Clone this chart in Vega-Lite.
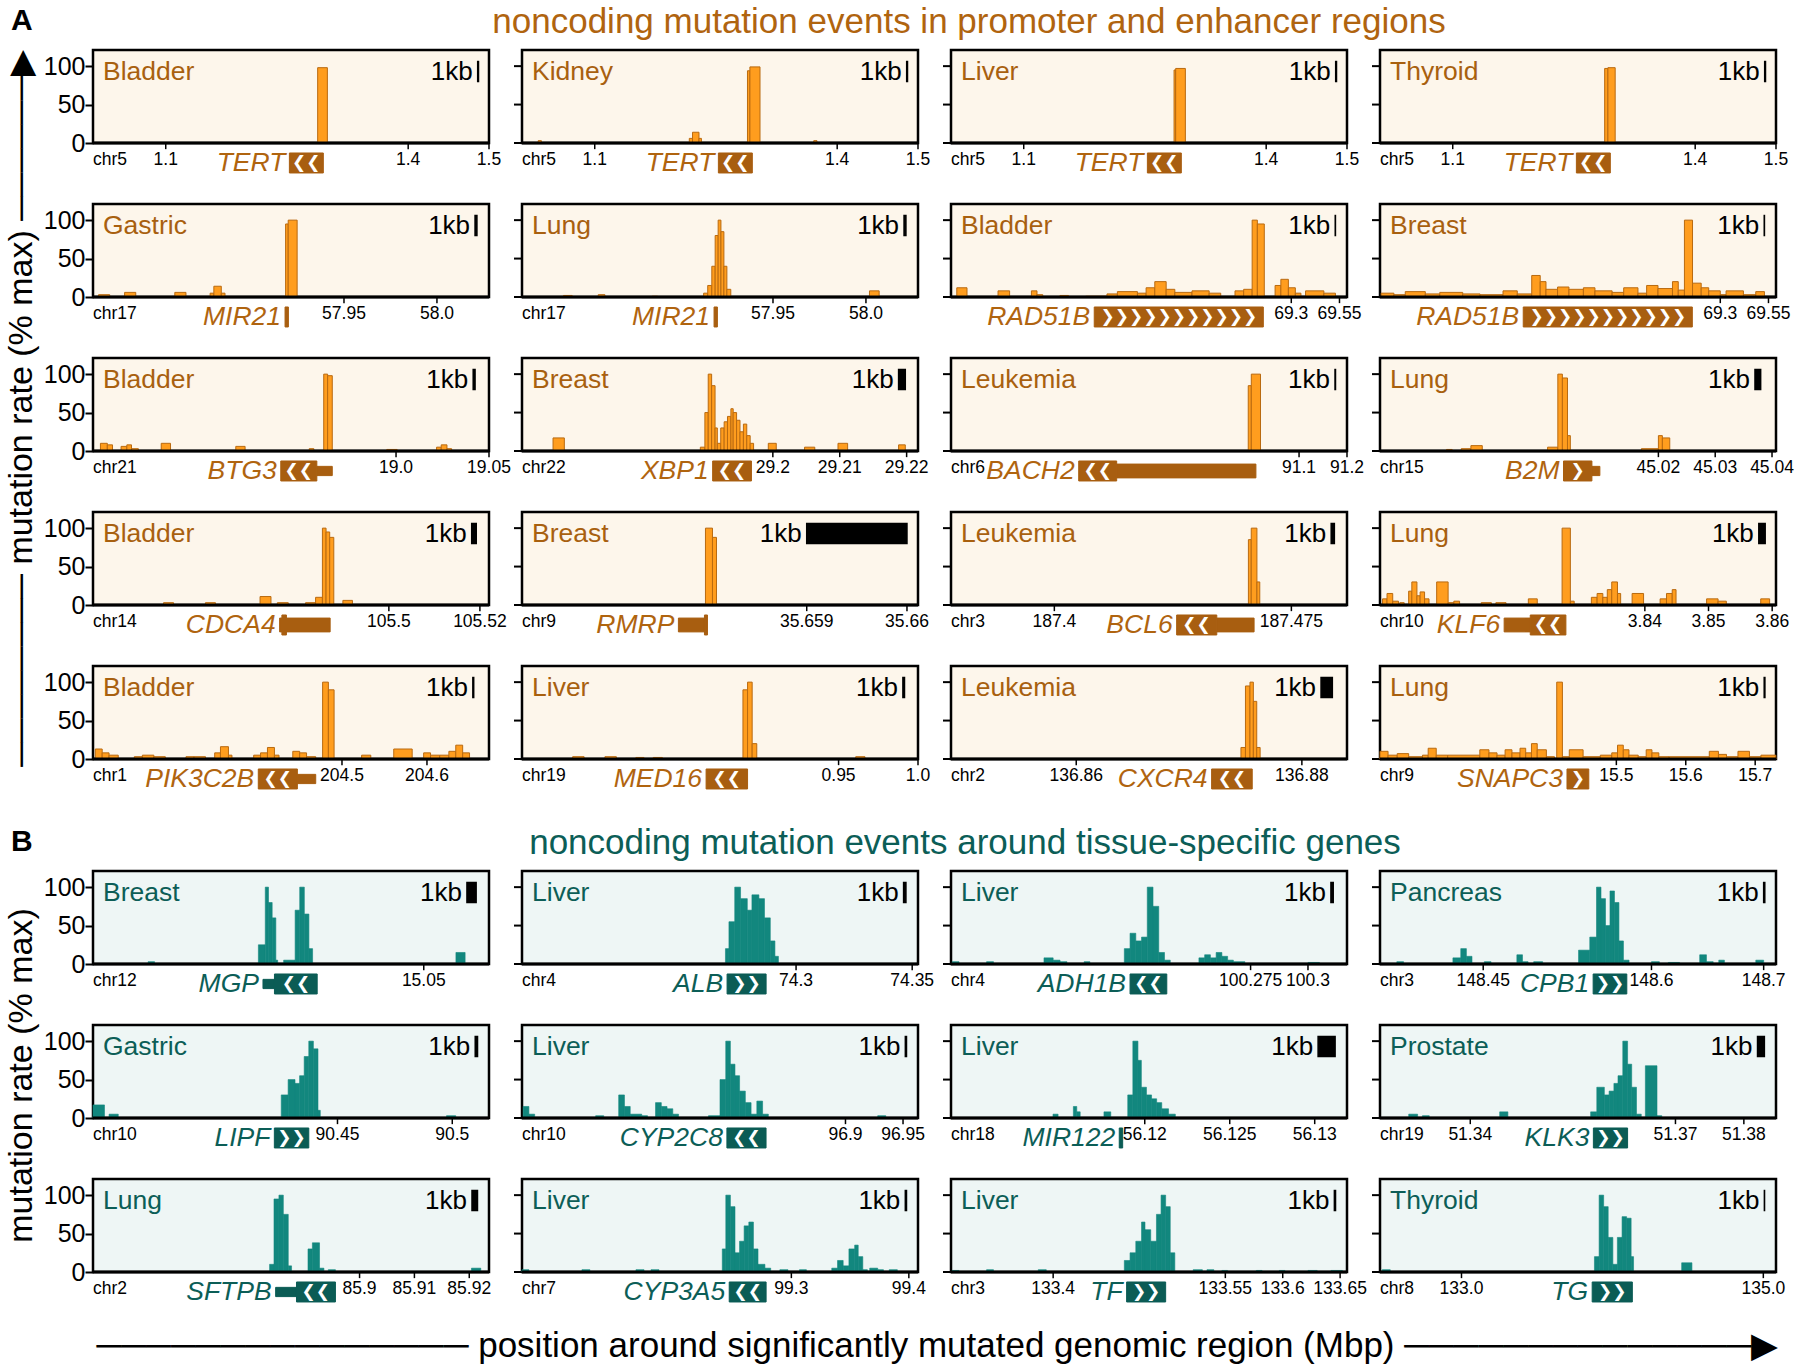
{
"$schema":"https://vega.github.io/schema/vega-lite/v6.json",
"background":"white",
"padding":{"left":4,"top":5,"right":5,"bottom":0},
"config":{"view":{"stroke":null},"text":{"font":"Liberation Sans"},"title":{"font":"Liberation Sans"},"header":{"titleFont":"Liberation Sans"}},
"datasets":{
"panels":[
{"p":"A01","r":1,"c":1,"x0":1.01,"x1":1.5,"tis":"Bladder","chr":"chr5","k0":1.486,"k1":1.487},
{"p":"A02","r":1,"c":2,"x0":1.01,"x1":1.5,"tis":"Kidney","chr":"chr5","k0":1.486,"k1":1.487},
{"p":"A03","r":1,"c":3,"x0":1.01,"x1":1.5,"tis":"Liver","chr":"chr5","k0":1.486,"k1":1.487},
{"p":"A04","r":1,"c":4,"x0":1.01,"x1":1.5,"tis":"Thyroid","chr":"chr5","k0":1.486,"k1":1.487},
{"p":"A05","r":2,"c":1,"x0":57.815,"x1":58.028,"tis":"Gastric","chr":"chr17","k0":58.0205,"k1":58.0215},
{"p":"A06","r":2,"c":2,"x0":57.815,"x1":58.028,"tis":"Lung","chr":"chr17","k0":58.0205,"k1":58.0215},
{"p":"A07","r":2,"c":3,"x0":67.535,"x1":69.589,"tis":"Bladder","chr":"","k0":69.528,"k1":69.529},
{"p":"A08","r":2,"c":4,"x0":67.535,"x1":69.589,"tis":"Breast","chr":"","k0":69.528,"k1":69.529},
{"p":"A09","r":3,"c":1,"x0":18.837,"x1":19.05,"tis":"Bladder","chr":"chr21","k0":19.0415,"k1":19.0425},
{"p":"A10","r":3,"c":2,"x0":29.1625,"x1":29.2217,"tis":"Breast","chr":"chr22","k0":29.2188,"k1":29.2198},
{"p":"A11","r":3,"c":3,"x0":90.374,"x1":91.2,"tis":"Leukemia","chr":"chr6","k0":91.175,"k1":91.176},
{"p":"A12","r":3,"c":4,"x0":44.971,"x1":45.0407,"tis":"Lung","chr":"chr15","k0":45.037,"k1":45.038},
{"p":"A13","r":4,"c":1,"x0":105.435,"x1":105.522,"tis":"Bladder","chr":"chr14","k0":105.5182,"k1":105.5192},
{"p":"A14","r":4,"c":2,"x0":35.65616,"x1":35.66011,"tis":"Breast","chr":"chr9","k0":35.659,"k1":35.66},
{"p":"A15","r":4,"c":3,"x0":187.3673,"x1":187.4926,"tis":"Leukemia","chr":"chr3","k0":187.4876,"k1":187.4886},
{"p":"A16","r":4,"c":4,"x0":3.7984,"x1":3.8606,"tis":"Lung","chr":"chr10","k0":3.8579,"k1":3.8589},
{"p":"A17","r":5,"c":1,"x0":204.207,"x1":204.673,"tis":"Bladder","chr":"chr1","k0":204.654,"k1":204.655},
{"p":"A18","r":5,"c":2,"x0":0.7507,"x1":1.0,"tis":"Liver","chr":"chr19","k0":0.9905,"k1":0.9915},
{"p":"A19","r":5,"c":3,"x0":136.8489,"x1":136.884,"tis":"Leukemia","chr":"chr2","k0":136.8817,"k1":136.8827},
{"p":"A20","r":5,"c":4,"x0":15.1595,"x1":15.73,"tis":"Lung","chr":"chr9","k0":15.713,"k1":15.714},
{"p":"B01","r":1,"c":1,"x0":15.014,"x1":15.0571,"tis":"Breast","chr":"chr12","k0":15.0547,"k1":15.0557},
{"p":"B02","r":1,"c":2,"x0":74.182,"x1":74.3525,"tis":"Liver","chr":"chr4","k0":74.3463,"k1":74.3473},
{"p":"B03","r":1,"c":3,"x0":100.1445,"x1":100.317,"tis":"Liver","chr":"chr4","k0":100.31,"k1":100.311},
{"p":"B04","r":1,"c":4,"x0":148.358,"x1":148.711,"tis":"Pancreas","chr":"chr3","k0":148.7,"k1":148.701},
{"p":"B05","r":2,"c":1,"x0":90.3435,"x1":90.516,"tis":"Gastric","chr":"chr10","k0":90.51,"k1":90.511},
{"p":"B06","r":2,"c":2,"x0":96.619,"x1":96.963,"tis":"Liver","chr":"chr10","k0":96.952,"k1":96.953},
{"p":"B07","r":2,"c":3,"x0":56.1086,"x1":56.1319,"tis":"Liver","chr":"chr18","k0":56.1302,"k1":56.1312},
{"p":"B08","r":2,"c":4,"x0":51.3268,"x1":51.3847,"tis":"Prostate","chr":"chr19","k0":51.382,"k1":51.383},
{"p":"B09","r":3,"c":1,"x0":85.8514,"x1":85.9236,"tis":"Lung","chr":"chr2","k0":85.9205,"k1":85.9215},
{"p":"B10","r":3,"c":2,"x0":99.0707,"x1":99.4078,"tis":"Liver","chr":"chr7","k0":99.397,"k1":99.398},
{"p":"B11","r":3,"c":3,"x0":133.311,"x1":133.656,"tis":"Liver","chr":"chr3","k0":133.645,"k1":133.646},
{"p":"B12","r":3,"c":4,"x0":132.46,"x1":135.084,"tis":"Thyroid","chr":"chr8","k0":135.007,"k1":135.008}
],
"ra":[
{"p":"A01","t":"P"},{"p":"A02","t":"P"},{"p":"A03","t":"P"},{"p":"A04","t":"P"},{"p":"A05","t":"P"},{"p":"A06","t":"P"},{"p":"A07","t":"P"},{"p":"A08","t":"P"},{"p":"A09","t":"P"},{"p":"A10","t":"P"},
{"p":"A11","t":"P"},{"p":"A12","t":"P"},{"p":"A13","t":"P"},{"p":"A14","t":"P"},{"p":"A15","t":"P"},{"p":"A16","t":"P"},{"p":"A17","t":"P"},{"p":"A18","t":"P"},{"p":"A19","t":"P"},{"p":"A20","t":"P"},
{"p":"A01","t":"T","x":1.1,"lab":"1.1"},{"p":"A01","t":"T","x":1.4,"lab":"1.4"},{"p":"A01","t":"T","x":1.5,"lab":"1.5"},
{"p":"A02","t":"T","x":1.1,"lab":"1.1"},{"p":"A02","t":"T","x":1.4,"lab":"1.4"},{"p":"A02","t":"T","x":1.5,"lab":"1.5"},
{"p":"A03","t":"T","x":1.1,"lab":"1.1"},{"p":"A03","t":"T","x":1.4,"lab":"1.4"},{"p":"A03","t":"T","x":1.5,"lab":"1.5"},
{"p":"A04","t":"T","x":1.1,"lab":"1.1"},{"p":"A04","t":"T","x":1.4,"lab":"1.4"},{"p":"A04","t":"T","x":1.5,"lab":"1.5"},
{"p":"A05","t":"T","x":57.95,"lab":"57.95"},{"p":"A05","t":"T","x":58.0,"lab":"58.0"},
{"p":"A06","t":"T","x":57.95,"lab":"57.95"},{"p":"A06","t":"T","x":58.0,"lab":"58.0"},
{"p":"A07","t":"T","x":69.3,"lab":"69.3"},{"p":"A07","t":"T","x":69.55,"lab":"69.55"},
{"p":"A08","t":"T","x":69.3,"lab":"69.3"},{"p":"A08","t":"T","x":69.55,"lab":"69.55"},
{"p":"A09","t":"T","x":19.0,"lab":"19.0"},{"p":"A09","t":"T","x":19.05,"lab":"19.05"},
{"p":"A10","t":"T","x":29.2,"lab":"29.2"},{"p":"A10","t":"T","x":29.21,"lab":"29.21"},{"p":"A10","t":"T","x":29.22,"lab":"29.22"},
{"p":"A11","t":"T","x":91.1,"lab":"91.1"},{"p":"A11","t":"T","x":91.2,"lab":"91.2"},
{"p":"A12","t":"T","x":45.02,"lab":"45.02"},{"p":"A12","t":"T","x":45.03,"lab":"45.03"},{"p":"A12","t":"T","x":45.04,"lab":"45.04"},
{"p":"A13","t":"T","x":105.5,"lab":"105.5"},{"p":"A13","t":"T","x":105.52,"lab":"105.52"},
{"p":"A14","t":"T","x":35.659,"lab":"35.659"},{"p":"A14","t":"T","x":35.66,"lab":"35.66"},
{"p":"A15","t":"T","x":187.4,"lab":"187.4"},{"p":"A15","t":"T","x":187.475,"lab":"187.475"},
{"p":"A16","t":"T","x":3.84,"lab":"3.84"},{"p":"A16","t":"T","x":3.85,"lab":"3.85"},{"p":"A16","t":"T","x":3.86,"lab":"3.86"},
{"p":"A17","t":"T","x":204.5,"lab":"204.5"},{"p":"A17","t":"T","x":204.6,"lab":"204.6"},
{"p":"A18","t":"T","x":0.95,"lab":"0.95"},{"p":"A18","t":"T","x":1.0,"lab":"1.0"},
{"p":"A19","t":"T","x":136.86,"lab":"136.86"},{"p":"A19","t":"T","x":136.88,"lab":"136.88"},
{"p":"A20","t":"T","x":15.5,"lab":"15.5"},{"p":"A20","t":"T","x":15.6,"lab":"15.6"},{"p":"A20","t":"T","x":15.7,"lab":"15.7"},
{"p":"A01","t":"G","s":1.253,"e":1.295,"k":"E"},{"p":"A02","t":"G","s":1.253,"e":1.295,"k":"E"},{"p":"A03","t":"G","s":1.253,"e":1.295,"k":"E"},{"p":"A04","t":"G","s":1.253,"e":1.295,"k":"E"},
{"p":"A05","t":"G","s":57.9183,"e":57.9201,"k":"E"},{"p":"A06","t":"G","s":57.9183,"e":57.9201,"k":"E"},
{"p":"A07","t":"G","s":68.278,"e":69.155,"k":"E"},{"p":"A08","t":"G","s":68.278,"e":69.155,"k":"E"},
{"p":"A09","t":"G","s":18.938,"e":18.9574,"k":"E"},{"p":"A09","t":"G","s":18.9574,"e":18.9657,"k":"U"},
{"p":"A10","t":"G","s":29.191,"e":29.1968,"k":"E"},
{"p":"A11","t":"G","s":90.6404,"e":90.7196,"k":"E"},{"p":"A11","t":"G","s":90.7196,"e":91.01,"k":"M"},
{"p":"A12","t":"G","s":45.0033,"e":45.0083,"k":"E"},{"p":"A12","t":"G","s":45.0083,"e":45.0097,"k":"U"},
{"p":"A13","t":"G","s":105.476,"e":105.4871,"k":"M"},{"p":"A13","t":"G","s":105.4765,"e":105.4775,"k":"E"},
{"p":"A14","t":"G","s":35.65772,"e":35.65798,"k":"M"},{"p":"A14","t":"G","s":35.65798,"e":35.65801,"k":"E"},
{"p":"A15","t":"G","s":187.4387,"e":187.4514,"k":"E"},{"p":"A15","t":"G","s":187.4514,"e":187.4632,"k":"M"},
{"p":"A16","t":"G","s":3.8179,"e":3.822,"k":"M"},{"p":"A16","t":"G","s":3.822,"e":3.8276,"k":"E"},
{"p":"A17","t":"G","s":204.4015,"e":204.4475,"k":"E"},{"p":"A17","t":"G","s":204.4475,"e":204.4691,"k":"U"},
{"p":"A18","t":"G","s":0.8666,"e":0.8927,"k":"E"},
{"p":"A19","t":"G","s":136.872,"e":136.8756,"k":"E"},
{"p":"A20","t":"G","s":15.4289,"e":15.4603,"k":"E"},
{"p":"A01","t":"N","g":"TERT","gs":1.253,"am":1.274,"ar":"❮❮"},
{"p":"A02","t":"N","g":"TERT","gs":1.253,"am":1.274,"ar":"❮❮"},
{"p":"A03","t":"N","g":"TERT","gs":1.253,"am":1.274,"ar":"❮❮"},
{"p":"A04","t":"N","g":"TERT","gs":1.253,"am":1.274,"ar":"❮❮"},
{"p":"A05","t":"N","g":"MIR21","gs":57.9183,"am":57.9192,"ar":""},
{"p":"A06","t":"N","g":"MIR21","gs":57.9183,"am":57.9192,"ar":""},
{"p":"A07","t":"N","g":"RAD51B","gs":68.278,"am":68.7165,"ar":"❯❯❯❯❯❯❯❯❯❯❯"},
{"p":"A08","t":"N","g":"RAD51B","gs":68.278,"am":68.7165,"ar":"❯❯❯❯❯❯❯❯❯❯❯"},
{"p":"A09","t":"N","g":"BTG3","gs":18.938,"am":18.9477,"ar":"❮❮"},
{"p":"A10","t":"N","g":"XBP1","gs":29.191,"am":29.1939,"ar":"❮❮"},
{"p":"A11","t":"N","g":"BACH2","gs":90.6404,"am":90.68,"ar":"❮❮"},
{"p":"A12","t":"N","g":"B2M","gs":45.0033,"am":45.0058,"ar":"❯"},
{"p":"A13","t":"N","g":"CDCA4","gs":105.476,"am":105.48,"ar":""},
{"p":"A14","t":"N","g":"RMRP","gs":35.65772,"am":35.6578,"ar":""},
{"p":"A15","t":"N","g":"BCL6","gs":187.4387,"am":187.445,"ar":"❮❮"},
{"p":"A16","t":"N","g":"KLF6","gs":3.8179,"am":3.8248,"ar":"❮❮"},
{"p":"A17","t":"N","g":"PIK3C2B","gs":204.4015,"am":204.4245,"ar":"❮❮"},
{"p":"A18","t":"N","g":"MED16","gs":0.8666,"am":0.8796,"ar":"❮❮"},
{"p":"A19","t":"N","g":"CXCR4","gs":136.872,"am":136.8738,"ar":"❮❮"},
{"p":"A20","t":"N","g":"SNAPC3","gs":15.4289,"am":15.4446,"ar":"❯"},
{"p":"A01","t":"B","s":1.288,"e":1.3,"v":98},
{"p":"A02","t":"B","s":1.03,"e":1.034,"v":3},{"p":"A02","t":"B","s":1.217,"e":1.221,"v":6},{"p":"A02","t":"B","s":1.221,"e":1.229,"v":14},{"p":"A02","t":"B","s":1.229,"e":1.232,"v":6},{"p":"A02","t":"B","s":1.289,"e":1.292,"v":94},{"p":"A02","t":"B","s":1.292,"e":1.3045,"v":99},{"p":"A02","t":"B","s":1.371,"e":1.375,"v":3},
{"p":"A03","t":"B","s":1.286,"e":1.288,"v":95},{"p":"A03","t":"B","s":1.288,"e":1.3,"v":97},
{"p":"A04","t":"B","s":1.288,"e":1.292,"v":97},{"p":"A04","t":"B","s":1.292,"e":1.301,"v":98},
{"p":"A05","t":"B","s":57.818,"e":57.824,"v":3},{"p":"A05","t":"B","s":57.832,"e":57.838,"v":6},{"p":"A05","t":"B","s":57.859,"e":57.865,"v":6},{"p":"A05","t":"B","s":57.878,"e":57.88,"v":5},{"p":"A05","t":"B","s":57.88,"e":57.884,"v":14},{"p":"A05","t":"B","s":57.884,"e":57.886,"v":5},{"p":"A05","t":"B","s":57.9186,"e":57.92,"v":95},{"p":"A05","t":"B","s":57.92,"e":57.9248,"v":100},
{"p":"A06","t":"B","s":57.8373,"e":57.842,"v":2},{"p":"A06","t":"B","s":57.856,"e":57.8596,"v":3},{"p":"A06","t":"B","s":57.885,"e":57.888,"v":1},{"p":"A06","t":"B","s":57.9127,"e":57.9149,"v":5},{"p":"A06","t":"B","s":57.9149,"e":57.9171,"v":15},{"p":"A06","t":"B","s":57.9171,"e":57.9189,"v":40},{"p":"A06","t":"B","s":57.9189,"e":57.9205,"v":80},{"p":"A06","t":"B","s":57.9205,"e":57.922,"v":100},{"p":"A06","t":"B","s":57.922,"e":57.9236,"v":85},{"p":"A06","t":"B","s":57.9236,"e":57.9252,"v":40},{"p":"A06","t":"B","s":57.9252,"e":57.9273,"v":10},{"p":"A06","t":"B","s":58.0019,"e":58.0071,"v":8},
{"p":"A07","t":"B","s":67.565,"e":67.618,"v":12},{"p":"A07","t":"B","s":67.779,"e":67.839,"v":8},{"p":"A07","t":"B","s":67.952,"e":67.981,"v":8},{"p":"A07","t":"B","s":67.981,"e":68.011,"v":3},{"p":"A07","t":"B","s":68.1,"e":68.145,"v":2},{"p":"A07","t":"B","s":68.234,"e":68.344,"v":1},{"p":"A07","t":"B","s":68.344,"e":68.398,"v":4},{"p":"A07","t":"B","s":68.398,"e":68.502,"v":7},{"p":"A07","t":"B","s":68.502,"e":68.547,"v":5},{"p":"A07","t":"B","s":68.547,"e":68.592,"v":12},{"p":"A07","t":"B","s":68.592,"e":68.651,"v":20},{"p":"A07","t":"B","s":68.651,"e":68.696,"v":10},{"p":"A07","t":"B","s":68.696,"e":68.785,"v":6},{"p":"A07","t":"B","s":68.785,"e":68.874,"v":8},{"p":"A07","t":"B","s":68.874,"e":68.934,"v":5},{"p":"A07","t":"B","s":69.008,"e":69.053,"v":8},{"p":"A07","t":"B","s":69.053,"e":69.097,"v":10},{"p":"A07","t":"B","s":69.097,"e":69.124,"v":100},{"p":"A07","t":"B","s":69.124,"e":69.16,"v":95},{"p":"A07","t":"B","s":69.216,"e":69.246,"v":15},{"p":"A07","t":"B","s":69.246,"e":69.285,"v":23},{"p":"A07","t":"B","s":69.285,"e":69.321,"v":12},{"p":"A07","t":"B","s":69.321,"e":69.35,"v":5},{"p":"A07","t":"B","s":69.374,"e":69.469,"v":8},{"p":"A07","t":"B","s":69.469,"e":69.529,"v":5},
{"p":"A08","t":"B","s":67.541,"e":67.607,"v":5},{"p":"A08","t":"B","s":67.607,"e":67.666,"v":3},{"p":"A08","t":"B","s":67.666,"e":67.77,"v":7},{"p":"A08","t":"B","s":67.77,"e":67.845,"v":4},{"p":"A08","t":"B","s":67.845,"e":67.964,"v":6},{"p":"A08","t":"B","s":67.964,"e":68.054,"v":4},{"p":"A08","t":"B","s":68.054,"e":68.173,"v":3},{"p":"A08","t":"B","s":68.173,"e":68.247,"v":8},{"p":"A08","t":"B","s":68.247,"e":68.322,"v":4},{"p":"A08","t":"B","s":68.322,"e":68.366,"v":28},{"p":"A08","t":"B","s":68.366,"e":68.396,"v":20},{"p":"A08","t":"B","s":68.396,"e":68.456,"v":10},{"p":"A08","t":"B","s":68.456,"e":68.515,"v":13},{"p":"A08","t":"B","s":68.515,"e":68.59,"v":10},{"p":"A08","t":"B","s":68.59,"e":68.65,"v":12},{"p":"A08","t":"B","s":68.65,"e":68.739,"v":8},{"p":"A08","t":"B","s":68.739,"e":68.799,"v":6},{"p":"A08","t":"B","s":68.799,"e":68.873,"v":12},{"p":"A08","t":"B","s":68.873,"e":68.918,"v":5},{"p":"A08","t":"B","s":68.918,"e":68.977,"v":15},{"p":"A08","t":"B","s":68.977,"e":69.052,"v":11},{"p":"A08","t":"B","s":69.052,"e":69.082,"v":20},{"p":"A08","t":"B","s":69.082,"e":69.114,"v":9},{"p":"A08","t":"B","s":69.114,"e":69.156,"v":100},{"p":"A08","t":"B","s":69.156,"e":69.201,"v":18},{"p":"A08","t":"B","s":69.201,"e":69.24,"v":12},{"p":"A08","t":"B","s":69.24,"e":69.3,"v":8},{"p":"A08","t":"B","s":69.3,"e":69.33,"v":3},{"p":"A08","t":"B","s":69.33,"e":69.42,"v":8},{"p":"A08","t":"B","s":69.42,"e":69.484,"v":3},{"p":"A08","t":"B","s":69.484,"e":69.529,"v":7},
{"p":"A09","t":"B","s":18.841,"e":18.8447,"v":10},{"p":"A09","t":"B","s":18.8447,"e":18.8475,"v":8},{"p":"A09","t":"B","s":18.8521,"e":18.8552,"v":6},{"p":"A09","t":"B","s":18.8552,"e":18.8577,"v":8},{"p":"A09","t":"B","s":18.8577,"e":18.8614,"v":3},{"p":"A09","t":"B","s":18.8737,"e":18.8787,"v":10},{"p":"A09","t":"B","s":18.9138,"e":18.9188,"v":6},{"p":"A09","t":"B","s":18.9533,"e":18.9558,"v":3},{"p":"A09","t":"B","s":18.9611,"e":18.9632,"v":100},{"p":"A09","t":"B","s":18.9632,"e":18.9657,"v":98},{"p":"A09","t":"B","s":18.995,"e":19.0006,"v":2},{"p":"A09","t":"B","s":19.0218,"e":19.0243,"v":5},{"p":"A09","t":"B","s":19.0243,"e":19.0274,"v":8},{"p":"A09","t":"B","s":19.0274,"e":19.0299,"v":3},
{"p":"A10","t":"B","s":29.16714,"e":29.16883,"v":17},{"p":"A10","t":"B","s":29.18916,"e":29.18984,"v":5},{"p":"A10","t":"B","s":29.18984,"e":29.19034,"v":50},{"p":"A10","t":"B","s":29.19034,"e":29.19085,"v":100},{"p":"A10","t":"B","s":29.19085,"e":29.19136,"v":85},{"p":"A10","t":"B","s":29.19136,"e":29.1917,"v":30},{"p":"A10","t":"B","s":29.1917,"e":29.19221,"v":10},{"p":"A10","t":"B","s":29.19221,"e":29.19272,"v":30},{"p":"A10","t":"B","s":29.19272,"e":29.19322,"v":38},{"p":"A10","t":"B","s":29.19322,"e":29.19373,"v":45},{"p":"A10","t":"B","s":29.19373,"e":29.19407,"v":55},{"p":"A10","t":"B","s":29.19407,"e":29.19458,"v":50},{"p":"A10","t":"B","s":29.19458,"e":29.19509,"v":40},{"p":"A10","t":"B","s":29.19509,"e":29.1956,"v":25},{"p":"A10","t":"B","s":29.1956,"e":29.1961,"v":35},{"p":"A10","t":"B","s":29.1961,"e":29.19661,"v":20},{"p":"A10","t":"B","s":29.19661,"e":29.19712,"v":10},{"p":"A10","t":"B","s":29.19932,"e":29.20051,"v":10},{"p":"A10","t":"B","s":29.20474,"e":29.20627,"v":5},{"p":"A10","t":"B","s":29.20974,"e":29.21118,"v":10},{"p":"A10","t":"B","s":29.2188,"e":29.2198,"v":8},
{"p":"A11","t":"B","s":90.994,"e":91.0004,"v":85},{"p":"A11","t":"B","s":91.0004,"e":91.0196,"v":100},
{"p":"A12","t":"B","s":44.9827,"e":44.9837,"v":2},{"p":"A12","t":"B","s":44.9853,"e":44.987,"v":3},{"p":"A12","t":"B","s":44.987,"e":44.989,"v":7},{"p":"A12","t":"B","s":45.0005,"e":45.0023,"v":5},{"p":"A12","t":"B","s":45.0023,"e":45.0031,"v":100},{"p":"A12","t":"B","s":45.0031,"e":45.004,"v":95},{"p":"A12","t":"B","s":45.004,"e":45.0045,"v":20},{"p":"A12","t":"B","s":45.017,"e":45.02,"v":3},{"p":"A12","t":"B","s":45.02,"e":45.0207,"v":20},{"p":"A12","t":"B","s":45.0207,"e":45.022,"v":17},
{"p":"A13","t":"B","s":105.4505,"e":105.4527,"v":3},{"p":"A13","t":"B","s":105.4597,"e":105.4619,"v":3},{"p":"A13","t":"B","s":105.4717,"e":105.4741,"v":11},{"p":"A13","t":"B","s":105.4755,"e":105.4779,"v":3},{"p":"A13","t":"B","s":105.4817,"e":105.4839,"v":3},{"p":"A13","t":"B","s":105.4839,"e":105.4854,"v":10},{"p":"A13","t":"B","s":105.4854,"e":105.4862,"v":100},{"p":"A13","t":"B","s":105.4862,"e":105.487,"v":95},{"p":"A13","t":"B","s":105.487,"e":105.4879,"v":88},{"p":"A13","t":"B","s":105.4899,"e":105.492,"v":6},
{"p":"A14","t":"B","s":35.65799,"e":35.65806,"v":100},{"p":"A14","t":"B","s":35.65806,"e":35.6581,"v":88},
{"p":"A15","t":"B","s":187.4614,"e":187.4623,"v":85},{"p":"A15","t":"B","s":187.4623,"e":187.4641,"v":100},{"p":"A15","t":"B","s":187.4641,"e":187.465,"v":30},
{"p":"A16","t":"B","s":3.7988,"e":3.7995,"v":8},{"p":"A16","t":"B","s":3.7995,"e":3.8004,"v":15},{"p":"A16","t":"B","s":3.8004,"e":3.8013,"v":5},{"p":"A16","t":"B","s":3.8015,"e":3.8022,"v":3},{"p":"A16","t":"B","s":3.8029,"e":3.8034,"v":18},{"p":"A16","t":"B","s":3.8034,"e":3.8042,"v":30},{"p":"A16","t":"B","s":3.8042,"e":3.8047,"v":12},{"p":"A16","t":"B","s":3.8047,"e":3.8054,"v":17},{"p":"A16","t":"B","s":3.8054,"e":3.8061,"v":8},{"p":"A16","t":"B","s":3.8073,"e":3.8091,"v":30},{"p":"A16","t":"B","s":3.8091,"e":3.81,"v":3},{"p":"A16","t":"B","s":3.81,"e":3.8109,"v":5},{"p":"A16","t":"B","s":3.8143,"e":3.8159,"v":3},{"p":"A16","t":"B","s":3.8166,"e":3.8182,"v":3},{"p":"A16","t":"B","s":3.8217,"e":3.8231,"v":8},{"p":"A16","t":"B","s":3.827,"e":3.8283,"v":100},{"p":"A16","t":"B","s":3.8283,"e":3.8289,"v":5},{"p":"A16","t":"B","s":3.8316,"e":3.8325,"v":10},{"p":"A16","t":"B","s":3.8325,"e":3.8334,"v":15},{"p":"A16","t":"B","s":3.8334,"e":3.8341,"v":10},{"p":"A16","t":"B","s":3.8341,"e":3.8348,"v":20},{"p":"A16","t":"B","s":3.8348,"e":3.8357,"v":30},{"p":"A16","t":"B","s":3.8357,"e":3.8362,"v":15},{"p":"A16","t":"B","s":3.838,"e":3.8398,"v":15},{"p":"A16","t":"B","s":3.8424,"e":3.8434,"v":8},{"p":"A16","t":"B","s":3.8434,"e":3.8443,"v":15},{"p":"A16","t":"B","s":3.8443,"e":3.8449,"v":20},{"p":"A16","t":"B","s":3.8497,"e":3.8515,"v":8},{"p":"A16","t":"B","s":3.8515,"e":3.8528,"v":5},{"p":"A16","t":"B","s":3.8582,"e":3.8596,"v":8},
{"p":"A17","t":"B","s":204.2097,"e":204.2178,"v":13},{"p":"A17","t":"B","s":204.2178,"e":204.2259,"v":8},{"p":"A17","t":"B","s":204.2259,"e":204.2367,"v":5},{"p":"A17","t":"B","s":204.2556,"e":204.2651,"v":3},{"p":"A17","t":"B","s":204.2651,"e":204.2786,"v":5},{"p":"A17","t":"B","s":204.2786,"e":204.2921,"v":3},{"p":"A17","t":"B","s":204.3164,"e":204.3259,"v":3},{"p":"A17","t":"B","s":204.3259,"e":204.3394,"v":3},{"p":"A17","t":"B","s":204.3502,"e":204.357,"v":8},{"p":"A17","t":"B","s":204.357,"e":204.3664,"v":16},{"p":"A17","t":"B","s":204.3664,"e":204.3705,"v":5},{"p":"A17","t":"B","s":204.3961,"e":204.4042,"v":5},{"p":"A17","t":"B","s":204.4042,"e":204.4123,"v":8},{"p":"A17","t":"B","s":204.4123,"e":204.4205,"v":15},{"p":"A17","t":"B","s":204.4205,"e":204.4259,"v":5},{"p":"A17","t":"B","s":204.4421,"e":204.4502,"v":10},{"p":"A17","t":"B","s":204.4502,"e":204.4583,"v":8},{"p":"A17","t":"B","s":204.4583,"e":204.4691,"v":3},{"p":"A17","t":"B","s":204.4772,"e":204.484,"v":100},{"p":"A17","t":"B","s":204.484,"e":204.4907,"v":90},{"p":"A17","t":"B","s":204.5231,"e":204.5339,"v":5},{"p":"A17","t":"B","s":204.5609,"e":204.5826,"v":13},{"p":"A17","t":"B","s":204.5961,"e":204.6042,"v":8},{"p":"A17","t":"B","s":204.6042,"e":204.615,"v":5},{"p":"A17","t":"B","s":204.615,"e":204.6258,"v":5},{"p":"A17","t":"B","s":204.6258,"e":204.6339,"v":10},{"p":"A17","t":"B","s":204.6339,"e":204.642,"v":18},{"p":"A17","t":"B","s":204.642,"e":204.6501,"v":8},
{"p":"A18","t":"B","s":0.7826,"e":0.7898,"v":3},{"p":"A18","t":"B","s":0.8029,"e":0.8101,"v":3},{"p":"A18","t":"B","s":0.8224,"e":0.8275,"v":2},{"p":"A18","t":"B","s":0.8333,"e":0.8391,"v":2},{"p":"A18","t":"B","s":0.8898,"e":0.8927,"v":90},{"p":"A18","t":"B","s":0.8927,"e":0.8956,"v":100},{"p":"A18","t":"B","s":0.8956,"e":0.8985,"v":20},{"p":"A18","t":"B","s":0.9608,"e":0.9666,"v":3},
{"p":"A19","t":"B","s":136.8746,"e":136.875,"v":15},{"p":"A19","t":"B","s":136.875,"e":136.8754,"v":95},{"p":"A19","t":"B","s":136.8754,"e":136.8757,"v":100},{"p":"A19","t":"B","s":136.8757,"e":136.876,"v":75},{"p":"A19","t":"B","s":136.876,"e":136.8763,"v":15},
{"p":"A20","t":"B","s":15.1595,"e":15.1711,"v":10},{"p":"A20","t":"B","s":15.1711,"e":15.1843,"v":5},{"p":"A20","t":"B","s":15.1843,"e":15.2008,"v":7},{"p":"A20","t":"B","s":15.2008,"e":15.2207,"v":3},{"p":"A20","t":"B","s":15.2207,"e":15.2289,"v":5},{"p":"A20","t":"B","s":15.2289,"e":15.2405,"v":14},{"p":"A20","t":"B","s":15.2405,"e":15.257,"v":5},{"p":"A20","t":"B","s":15.257,"e":15.3033,"v":5},{"p":"A20","t":"B","s":15.3033,"e":15.3165,"v":12},{"p":"A20","t":"B","s":15.3165,"e":15.3281,"v":8},{"p":"A20","t":"B","s":15.3281,"e":15.3397,"v":5},{"p":"A20","t":"B","s":15.3397,"e":15.3496,"v":12},{"p":"A20","t":"B","s":15.3496,"e":15.3612,"v":8},{"p":"A20","t":"B","s":15.3612,"e":15.3694,"v":14},{"p":"A20","t":"B","s":15.3694,"e":15.3777,"v":8},{"p":"A20","t":"B","s":15.3777,"e":15.386,"v":20},{"p":"A20","t":"B","s":15.386,"e":15.3992,"v":12},{"p":"A20","t":"B","s":15.3992,"e":15.4108,"v":3},{"p":"A20","t":"B","s":15.4141,"e":15.4223,"v":100},{"p":"A20","t":"B","s":15.4223,"e":15.4322,"v":3},{"p":"A20","t":"B","s":15.4322,"e":15.4521,"v":12},{"p":"A20","t":"B","s":15.4521,"e":15.4769,"v":3},{"p":"A20","t":"B","s":15.4769,"e":15.4934,"v":5},{"p":"A20","t":"B","s":15.4934,"e":15.5017,"v":8},{"p":"A20","t":"B","s":15.5017,"e":15.51,"v":18},{"p":"A20","t":"B","s":15.51,"e":15.5182,"v":12},{"p":"A20","t":"B","s":15.5182,"e":15.5315,"v":5},{"p":"A20","t":"B","s":15.5315,"e":15.543,"v":3},{"p":"A20","t":"B","s":15.543,"e":15.5513,"v":12},{"p":"A20","t":"B","s":15.5513,"e":15.5612,"v":8},{"p":"A20","t":"B","s":15.5612,"e":15.5761,"v":3},{"p":"A20","t":"B","s":15.5761,"e":15.6339,"v":3},{"p":"A20","t":"B","s":15.6339,"e":15.6471,"v":10},{"p":"A20","t":"B","s":15.6471,"e":15.6587,"v":6},{"p":"A20","t":"B","s":15.6587,"e":15.6752,"v":3},{"p":"A20","t":"B","s":15.6752,"e":15.6918,"v":10},{"p":"A20","t":"B","s":15.6918,"e":15.7083,"v":3},{"p":"A20","t":"B","s":15.7083,"e":15.7298,"v":5}
],
"rb":[
{"p":"B01","t":"P"},{"p":"B02","t":"P"},{"p":"B03","t":"P"},{"p":"B04","t":"P"},{"p":"B05","t":"P"},{"p":"B06","t":"P"},{"p":"B07","t":"P"},{"p":"B08","t":"P"},{"p":"B09","t":"P"},{"p":"B10","t":"P"},{"p":"B11","t":"P"},{"p":"B12","t":"P"},
{"p":"B01","t":"T","x":15.05,"lab":"15.05"},
{"p":"B02","t":"T","x":74.3,"lab":"74.3"},{"p":"B02","t":"T","x":74.35,"lab":"74.35"},
{"p":"B03","t":"T","x":100.275,"lab":"100.275"},{"p":"B03","t":"T","x":100.3,"lab":"100.3"},
{"p":"B04","t":"T","x":148.45,"lab":"148.45"},{"p":"B04","t":"T","x":148.6,"lab":"148.6"},{"p":"B04","t":"T","x":148.7,"lab":"148.7"},
{"p":"B05","t":"T","x":90.45,"lab":"90.45"},{"p":"B05","t":"T","x":90.5,"lab":"90.5"},
{"p":"B06","t":"T","x":96.9,"lab":"96.9"},{"p":"B06","t":"T","x":96.95,"lab":"96.95"},
{"p":"B07","t":"T","x":56.12,"lab":"56.12"},{"p":"B07","t":"T","x":56.125,"lab":"56.125"},{"p":"B07","t":"T","x":56.13,"lab":"56.13"},
{"p":"B08","t":"T","x":51.34,"lab":"51.34"},{"p":"B08","t":"T","x":51.37,"lab":"51.37"},{"p":"B08","t":"T","x":51.38,"lab":"51.38"},
{"p":"B09","t":"T","x":85.9,"lab":"85.9"},{"p":"B09","t":"T","x":85.91,"lab":"85.91"},{"p":"B09","t":"T","x":85.92,"lab":"85.92"},
{"p":"B10","t":"T","x":99.3,"lab":"99.3"},{"p":"B10","t":"T","x":99.4,"lab":"99.4"},
{"p":"B11","t":"T","x":133.4,"lab":"133.4"},{"p":"B11","t":"T","x":133.55,"lab":"133.55"},{"p":"B11","t":"T","x":133.6,"lab":"133.6"},{"p":"B11","t":"T","x":133.65,"lab":"133.65"},
{"p":"B12","t":"T","x":133.0,"lab":"133.0"},{"p":"B12","t":"T","x":135.0,"lab":"135.0"},
{"p":"B01","t":"G","s":15.0325,"e":15.03375,"k":"U"},{"p":"B01","t":"G","s":15.03375,"e":15.0384,"k":"E"},
{"p":"B02","t":"G","s":74.2703,"e":74.2871,"k":"E"},
{"p":"B03","t":"G","s":100.2225,"e":100.2385,"k":"E"},
{"p":"B04","t":"G","s":148.548,"e":148.578,"k":"E"},
{"p":"B05","t":"G","s":90.4225,"e":90.4375,"k":"E"},
{"p":"B06","t":"G","s":96.797,"e":96.831,"k":"E"},
{"p":"B07","t":"G","s":56.1185,"e":56.1187,"k":"E"},
{"p":"B08","t":"G","s":51.358,"e":51.363,"k":"E"},
{"p":"B09","t":"G","s":85.8847,"e":85.8885,"k":"U"},{"p":"B09","t":"G","s":85.8885,"e":85.8956,"k":"E"},
{"p":"B10","t":"G","s":99.2471,"e":99.2785,"k":"E"},
{"p":"B11","t":"G","s":133.464,"e":133.498,"k":"E"},
{"p":"B12","t":"G","s":133.866,"e":134.132,"k":"E"},
{"p":"B01","t":"N","g":"MGP","gs":15.0325,"am":15.0361,"ar":"❮❮"},
{"p":"B02","t":"N","g":"ALB","gs":74.2703,"am":74.2787,"ar":"❯❯"},
{"p":"B03","t":"N","g":"ADH1B","gs":100.2225,"am":100.2305,"ar":"❮❮"},
{"p":"B04","t":"N","g":"CPB1","gs":148.548,"am":148.563,"ar":"❯❯"},
{"p":"B05","t":"N","g":"LIPF","gs":90.4225,"am":90.43,"ar":"❯❯"},
{"p":"B06","t":"N","g":"CYP2C8","gs":96.797,"am":96.814,"ar":"❮❮"},
{"p":"B07","t":"N","g":"MIR122","gs":56.1185,"am":56.1186,"ar":""},
{"p":"B08","t":"N","g":"KLK3","gs":51.358,"am":51.3605,"ar":"❯❯"},
{"p":"B09","t":"N","g":"SFTPB","gs":85.8847,"am":85.892,"ar":"❮❮"},
{"p":"B10","t":"N","g":"CYP3A5","gs":99.2471,"am":99.2628,"ar":"❮❮"},
{"p":"B11","t":"N","g":"TF","gs":133.464,"am":133.481,"ar":"❯❯"},
{"p":"B12","t":"N","g":"TG","gs":133.866,"am":133.999,"ar":"❯❯"},
{"p":"B01","t":"B","s":15.02,"e":15.0207,"v":3},{"p":"B01","t":"B","s":15.032,"e":15.03275,"v":25},{"p":"B01","t":"B","s":15.03275,"e":15.0331,"v":100},{"p":"B01","t":"B","s":15.0331,"e":15.0335,"v":80},{"p":"B01","t":"B","s":15.0335,"e":15.0339,"v":60},{"p":"B01","t":"B","s":15.0339,"e":15.0341,"v":5},{"p":"B01","t":"B","s":15.03475,"e":15.036,"v":5},{"p":"B01","t":"B","s":15.036,"e":15.0365,"v":70},{"p":"B01","t":"B","s":15.0365,"e":15.037,"v":100},{"p":"B01","t":"B","s":15.037,"e":15.0375,"v":65},{"p":"B01","t":"B","s":15.0375,"e":15.0379,"v":20},{"p":"B01","t":"B","s":15.0535,"e":15.0545,"v":15},
{"p":"B02","t":"B","s":74.2696,"e":74.2711,"v":20},{"p":"B02","t":"B","s":74.2711,"e":74.2736,"v":55},{"p":"B02","t":"B","s":74.2736,"e":74.2761,"v":100},{"p":"B02","t":"B","s":74.2761,"e":74.279,"v":85},{"p":"B02","t":"B","s":74.279,"e":74.281,"v":70},{"p":"B02","t":"B","s":74.281,"e":74.284,"v":90},{"p":"B02","t":"B","s":74.284,"e":74.2864,"v":85},{"p":"B02","t":"B","s":74.2864,"e":74.2889,"v":60},{"p":"B02","t":"B","s":74.2889,"e":74.2909,"v":30},{"p":"B02","t":"B","s":74.2909,"e":74.2924,"v":10},
{"p":"B03","t":"B","s":100.145,"e":100.148,"v":3},{"p":"B03","t":"B","s":100.16,"e":100.163,"v":3},{"p":"B03","t":"B","s":100.185,"e":100.189,"v":8},{"p":"B03","t":"B","s":100.189,"e":100.192,"v":5},{"p":"B03","t":"B","s":100.192,"e":100.195,"v":3},{"p":"B03","t":"B","s":100.2025,"e":100.205,"v":3},{"p":"B03","t":"B","s":100.22,"e":100.2225,"v":20},{"p":"B03","t":"B","s":100.2225,"e":100.225,"v":40},{"p":"B03","t":"B","s":100.225,"e":100.2275,"v":30},{"p":"B03","t":"B","s":100.2275,"e":100.23,"v":35},{"p":"B03","t":"B","s":100.23,"e":100.2325,"v":100},{"p":"B03","t":"B","s":100.2325,"e":100.235,"v":75},{"p":"B03","t":"B","s":100.235,"e":100.2375,"v":15},{"p":"B03","t":"B","s":100.2375,"e":100.24,"v":5},{"p":"B03","t":"B","s":100.2525,"e":100.255,"v":8},{"p":"B03","t":"B","s":100.255,"e":100.2575,"v":12},{"p":"B03","t":"B","s":100.2575,"e":100.26,"v":8},{"p":"B03","t":"B","s":100.26,"e":100.2625,"v":15},{"p":"B03","t":"B","s":100.2625,"e":100.265,"v":10},{"p":"B03","t":"B","s":100.265,"e":100.2675,"v":5},{"p":"B03","t":"B","s":100.2675,"e":100.2725,"v":3},{"p":"B03","t":"B","s":100.3,"e":100.305,"v":2},
{"p":"B04","t":"B","s":148.373,"e":148.379,"v":3},{"p":"B04","t":"B","s":148.423,"e":148.43,"v":8},{"p":"B04","t":"B","s":148.43,"e":148.435,"v":20},{"p":"B04","t":"B","s":148.435,"e":148.44,"v":10},{"p":"B04","t":"B","s":148.451,"e":148.457,"v":3},{"p":"B04","t":"B","s":148.48,"e":148.485,"v":12},{"p":"B04","t":"B","s":148.485,"e":148.49,"v":3},{"p":"B04","t":"B","s":148.495,"e":148.503,"v":3},{"p":"B04","t":"B","s":148.535,"e":148.545,"v":18},{"p":"B04","t":"B","s":148.545,"e":148.551,"v":35},{"p":"B04","t":"B","s":148.551,"e":148.555,"v":100},{"p":"B04","t":"B","s":148.555,"e":148.559,"v":85},{"p":"B04","t":"B","s":148.559,"e":148.563,"v":50},{"p":"B04","t":"B","s":148.563,"e":148.567,"v":95},{"p":"B04","t":"B","s":148.567,"e":148.571,"v":80},{"p":"B04","t":"B","s":148.571,"e":148.575,"v":30},{"p":"B04","t":"B","s":148.575,"e":148.58,"v":5},{"p":"B04","t":"B","s":148.6,"e":148.607,"v":3},{"p":"B04","t":"B","s":148.615,"e":148.625,"v":2},{"p":"B04","t":"B","s":148.643,"e":148.649,"v":12},{"p":"B04","t":"B","s":148.649,"e":148.655,"v":3},{"p":"B04","t":"B","s":148.66,"e":148.665,"v":5},{"p":"B04","t":"B","s":148.693,"e":148.7,"v":5},
{"p":"B05","t":"B","s":90.3435,"e":90.3485,"v":17},{"p":"B05","t":"B","s":90.3505,"e":90.3545,"v":5},{"p":"B05","t":"B","s":90.4255,"e":90.4285,"v":30},{"p":"B05","t":"B","s":90.4285,"e":90.4315,"v":50},{"p":"B05","t":"B","s":90.4315,"e":90.4335,"v":45},{"p":"B05","t":"B","s":90.4335,"e":90.4355,"v":55},{"p":"B05","t":"B","s":90.4355,"e":90.4375,"v":80},{"p":"B05","t":"B","s":90.4375,"e":90.4395,"v":100},{"p":"B05","t":"B","s":90.4395,"e":90.4415,"v":90},{"p":"B05","t":"B","s":90.4415,"e":90.4425,"v":10},{"p":"B05","t":"B","s":90.4975,"e":90.5015,"v":3},
{"p":"B06","t":"B","s":96.62,"e":96.625,"v":15},{"p":"B06","t":"B","s":96.625,"e":96.63,"v":5},{"p":"B06","t":"B","s":96.683,"e":96.69,"v":3},{"p":"B06","t":"B","s":96.703,"e":96.708,"v":30},{"p":"B06","t":"B","s":96.708,"e":96.713,"v":15},{"p":"B06","t":"B","s":96.713,"e":96.723,"v":5},{"p":"B06","t":"B","s":96.723,"e":96.728,"v":3},{"p":"B06","t":"B","s":96.735,"e":96.74,"v":20},{"p":"B06","t":"B","s":96.74,"e":96.745,"v":15},{"p":"B06","t":"B","s":96.745,"e":96.75,"v":12},{"p":"B06","t":"B","s":96.75,"e":96.755,"v":5},{"p":"B06","t":"B","s":96.781,"e":96.791,"v":3},{"p":"B06","t":"B","s":96.791,"e":96.796,"v":50},{"p":"B06","t":"B","s":96.796,"e":96.8,"v":100},{"p":"B06","t":"B","s":96.8,"e":96.804,"v":70},{"p":"B06","t":"B","s":96.804,"e":96.808,"v":55},{"p":"B06","t":"B","s":96.808,"e":96.813,"v":35},{"p":"B06","t":"B","s":96.813,"e":96.818,"v":20},{"p":"B06","t":"B","s":96.818,"e":96.823,"v":5},{"p":"B06","t":"B","s":96.823,"e":96.828,"v":22},{"p":"B06","t":"B","s":96.828,"e":96.833,"v":5},{"p":"B06","t":"B","s":96.928,"e":96.935,"v":3},
{"p":"B07","t":"B","s":56.1146,"e":56.1149,"v":5},{"p":"B07","t":"B","s":56.1158,"e":56.116,"v":15},{"p":"B07","t":"B","s":56.116,"e":56.1162,"v":8},{"p":"B07","t":"B","s":56.1176,"e":56.118,"v":8},{"p":"B07","t":"B","s":56.119,"e":56.1193,"v":30},{"p":"B07","t":"B","s":56.1193,"e":56.1196,"v":100},{"p":"B07","t":"B","s":56.1196,"e":56.1198,"v":75},{"p":"B07","t":"B","s":56.1198,"e":56.1201,"v":40},{"p":"B07","t":"B","s":56.1201,"e":56.1204,"v":30},{"p":"B07","t":"B","s":56.1204,"e":56.1207,"v":25},{"p":"B07","t":"B","s":56.1207,"e":56.121,"v":20},{"p":"B07","t":"B","s":56.121,"e":56.1214,"v":12},{"p":"B07","t":"B","s":56.1214,"e":56.1218,"v":5},
{"p":"B08","t":"B","s":51.331,"e":51.3323,"v":5},{"p":"B08","t":"B","s":51.333,"e":51.334,"v":3},{"p":"B08","t":"B","s":51.3443,"e":51.3455,"v":8},{"p":"B08","t":"B","s":51.3576,"e":51.3585,"v":8},{"p":"B08","t":"B","s":51.3585,"e":51.3596,"v":40},{"p":"B08","t":"B","s":51.3596,"e":51.3603,"v":30},{"p":"B08","t":"B","s":51.3603,"e":51.361,"v":35},{"p":"B08","t":"B","s":51.361,"e":51.3616,"v":45},{"p":"B08","t":"B","s":51.3616,"e":51.3623,"v":55},{"p":"B08","t":"B","s":51.3623,"e":51.363,"v":100},{"p":"B08","t":"B","s":51.363,"e":51.3636,"v":70},{"p":"B08","t":"B","s":51.3636,"e":51.3643,"v":40},{"p":"B08","t":"B","s":51.3643,"e":51.365,"v":5},{"p":"B08","t":"B","s":51.3656,"e":51.3673,"v":68},{"p":"B08","t":"B","s":51.3673,"e":51.368,"v":3},
{"p":"B09","t":"B","s":85.8836,"e":85.8844,"v":10},{"p":"B09","t":"B","s":85.8844,"e":85.8853,"v":95},{"p":"B09","t":"B","s":85.8853,"e":85.8861,"v":100},{"p":"B09","t":"B","s":85.8861,"e":85.887,"v":75},{"p":"B09","t":"B","s":85.887,"e":85.8876,"v":8},{"p":"B09","t":"B","s":85.8906,"e":85.8914,"v":30},{"p":"B09","t":"B","s":85.8914,"e":85.8927,"v":38},{"p":"B09","t":"B","s":85.8927,"e":85.8935,"v":5},{"p":"B09","t":"B","s":85.8943,"e":85.8956,"v":3},{"p":"B09","t":"B","s":85.9204,"e":85.9221,"v":5},
{"p":"B10","t":"B","s":99.0707,"e":99.0766,"v":3},{"p":"B10","t":"B","s":99.1217,"e":99.1285,"v":3},{"p":"B10","t":"B","s":99.1677,"e":99.1746,"v":3},{"p":"B10","t":"B","s":99.1805,"e":99.1873,"v":3},{"p":"B10","t":"B","s":99.2412,"e":99.2442,"v":30},{"p":"B10","t":"B","s":99.2442,"e":99.2481,"v":100},{"p":"B10","t":"B","s":99.2481,"e":99.252,"v":85},{"p":"B10","t":"B","s":99.252,"e":99.2559,"v":25},{"p":"B10","t":"B","s":99.2559,"e":99.2598,"v":40},{"p":"B10","t":"B","s":99.2598,"e":99.2638,"v":60},{"p":"B10","t":"B","s":99.2638,"e":99.2677,"v":65},{"p":"B10","t":"B","s":99.2677,"e":99.2716,"v":30},{"p":"B10","t":"B","s":99.2716,"e":99.2775,"v":10},{"p":"B10","t":"B","s":99.2775,"e":99.2824,"v":5},{"p":"B10","t":"B","s":99.2902,"e":99.2971,"v":3},{"p":"B10","t":"B","s":99.3069,"e":99.3128,"v":3},{"p":"B10","t":"B","s":99.3344,"e":99.3393,"v":5},{"p":"B10","t":"B","s":99.3393,"e":99.3441,"v":15},{"p":"B10","t":"B","s":99.3441,"e":99.349,"v":8},{"p":"B10","t":"B","s":99.349,"e":99.3539,"v":30},{"p":"B10","t":"B","s":99.3539,"e":99.3569,"v":35},{"p":"B10","t":"B","s":99.3569,"e":99.3608,"v":20},{"p":"B10","t":"B","s":99.3608,"e":99.3647,"v":3},{"p":"B10","t":"B","s":99.3667,"e":99.3735,"v":5},{"p":"B10","t":"B","s":99.3735,"e":99.3784,"v":3},{"p":"B10","t":"B","s":99.3833,"e":99.3902,"v":3},
{"p":"B11","t":"B","s":133.312,"e":133.318,"v":2},{"p":"B11","t":"B","s":133.342,"e":133.348,"v":3},{"p":"B11","t":"B","s":133.387,"e":133.394,"v":3},{"p":"B11","t":"B","s":133.462,"e":133.467,"v":15},{"p":"B11","t":"B","s":133.467,"e":133.472,"v":25},{"p":"B11","t":"B","s":133.472,"e":133.477,"v":40},{"p":"B11","t":"B","s":133.477,"e":133.48,"v":65},{"p":"B11","t":"B","s":133.48,"e":133.485,"v":55},{"p":"B11","t":"B","s":133.485,"e":133.49,"v":40},{"p":"B11","t":"B","s":133.49,"e":133.494,"v":75},{"p":"B11","t":"B","s":133.494,"e":133.498,"v":100},{"p":"B11","t":"B","s":133.498,"e":133.502,"v":85},{"p":"B11","t":"B","s":133.502,"e":133.506,"v":25},{"p":"B11","t":"B","s":133.522,"e":133.53,"v":3},{"p":"B11","t":"B","s":133.534,"e":133.54,"v":3},{"p":"B11","t":"B","s":133.547,"e":133.552,"v":2},{"p":"B11","t":"B","s":133.577,"e":133.582,"v":2},{"p":"B11","t":"B","s":133.597,"e":133.602,"v":2},{"p":"B11","t":"B","s":133.622,"e":133.63,"v":2},{"p":"B11","t":"B","s":133.642,"e":133.652,"v":2},
{"p":"B12","t":"B","s":132.475,"e":132.528,"v":3},{"p":"B12","t":"B","s":133.881,"e":133.912,"v":20},{"p":"B12","t":"B","s":133.912,"e":133.942,"v":100},{"p":"B12","t":"B","s":133.942,"e":133.972,"v":85},{"p":"B12","t":"B","s":133.972,"e":134.003,"v":45},{"p":"B12","t":"B","s":134.003,"e":134.033,"v":10},{"p":"B12","t":"B","s":134.033,"e":134.064,"v":45},{"p":"B12","t":"B","s":134.064,"e":134.094,"v":72},{"p":"B12","t":"B","s":134.094,"e":134.124,"v":70},{"p":"B12","t":"B","s":134.124,"e":134.14,"v":20},{"p":"B12","t":"B","s":134.459,"e":134.527,"v":12}
]
},
"title":{"text":"─────────────── position around significantly mutated genomic region (Mbp) ──────────────▶","orient":"bottom","anchor":"middle","fontSize":35,"fontWeight":"normal","color":"#000","offset":24,"dx":38},
"spacing":33,
"vconcat":[
{
"data":{"name":"ra"},
"transform":[{"lookup":"p","from":{"data":{"name":"panels"},"key":"p","fields":["r","c","x0","x1","tis","chr","k0","k1"]}}],
"title":{"text":"A","anchor":"start","fontSize":30,"fontWeight":"bold","color":"#000","offset":-31,"dx":6},
"facet":{
"row":{"field":"r","type":"ordinal","header":{"labels":false,"title":"\u2800──────── mutation rate (% max) ──────▶","titleFontSize":34,"titleFontWeight":"normal","titleColor":"#000","titlePadding":-6}},
"column":{"field":"c","type":"ordinal","header":{"labels":false,"title":"\u2800\u2800noncoding mutation events in promoter and enhancer regions","titleFontSize":35,"titleFontWeight":"normal","titleColor":"#b0640f","titlePadding":0}}
},
"spacing":{"row":61,"column":33},
"bounds":"flush",
"resolve":{"scale":{"x":"independent"}},
"spec":{
"width":396,"height":93,
"layer":[
{"transform":[{"filter":"datum.t=='P'"}],"mark":{"type":"rect","fill":"#fdf6eb","stroke":"#000","strokeWidth":2.5},
 "encoding":{"x":{"field":"x0","type":"quantitative","scale":{"zero":false,"nice":false},"axis":null},"x2":{"field":"x1"},
 "y":{"datum":0,"type":"quantitative","scale":{"domain":[0,121],"nice":false,"zero":false},"axis":{"values":[0,50,100],"title":null,"domain":false,"grid":false,"tickSize":8,"tickWidth":2,"tickColor":"#000","labelFontSize":25,"labelColor":"#000","labelFont":"Liberation Sans","labelPadding":0}},"y2":{"datum":121}}},
{"transform":[{"filter":"datum.t=='P' && datum.c>1"}],"mark":{"type":"rule","stroke":"#000","strokeWidth":2,"x2Offset":-8},
 "encoding":{"x":{"field":"x0","type":"quantitative","scale":{"zero":false,"nice":false},"axis":null},"x2":{"field":"x0"},"y":{"datum":50,"type":"quantitative","title":null}}},
{"transform":[{"filter":"datum.t=='P' && datum.c>1"}],"mark":{"type":"rule","stroke":"#000","strokeWidth":2,"x2Offset":-8},
 "encoding":{"x":{"field":"x0","type":"quantitative","scale":{"zero":false,"nice":false},"axis":null},"x2":{"field":"x0"},"y":{"datum":100,"type":"quantitative","title":null}}},
{"transform":[{"filter":"datum.t=='P' && datum.c>1"}],"mark":{"type":"rule","stroke":"#000","strokeWidth":2,"x2Offset":-8},
 "encoding":{"x":{"field":"x0","type":"quantitative","scale":{"zero":false,"nice":false},"axis":null},"x2":{"field":"x0"},"y":{"datum":0,"type":"quantitative","title":null}}},
{"transform":[{"filter":"datum.t=='B'"}],"mark":{"type":"rect","fill":"#ff9d1e","stroke":"#b96a10","strokeWidth":1},
 "encoding":{"x":{"field":"s","type":"quantitative","scale":{"zero":false,"nice":false},"axis":null},"x2":{"field":"e"},"y":{"field":"v","type":"quantitative","title":null},"y2":{"datum":0}}},
{"transform":[{"filter":"datum.t=='P'"}],"mark":{"type":"rule","stroke":"#000","strokeWidth":3},
 "encoding":{"x":{"field":"x0","type":"quantitative","scale":{"zero":false,"nice":false},"axis":null},"x2":{"field":"x1"},"y":{"datum":0,"type":"quantitative","title":null}}},
{"transform":[{"filter":"datum.t=='T'"}],"mark":{"type":"rule","stroke":"#000","strokeWidth":1.5},
 "encoding":{"x":{"field":"x","type":"quantitative","scale":{"zero":false,"nice":false},"axis":null},"y":{"datum":0,"type":"quantitative","title":null},"y2":{"datum":-8}}},
{"transform":[{"filter":"datum.t=='T'"}],"mark":{"type":"text","fontSize":17.5,"baseline":"middle","align":"center","color":"#000"},
 "encoding":{"x":{"field":"x","type":"quantitative","scale":{"zero":false,"nice":false},"axis":null},"y":{"datum":-22,"type":"quantitative","title":null},"text":{"field":"lab"}}},
{"transform":[{"filter":"datum.t=='P'"}],"mark":{"type":"text","fontSize":17.5,"baseline":"middle","align":"left","color":"#000"},
 "encoding":{"x":{"field":"x0","type":"quantitative","scale":{"zero":false,"nice":false},"axis":null},"y":{"datum":-22,"type":"quantitative","title":null},"text":{"field":"chr"}}},
{"transform":[{"filter":"datum.t=='P'"}],"mark":{"type":"text","fontSize":26.5,"baseline":"middle","align":"left","dx":10,"color":"#a8600f"},
 "encoding":{"x":{"field":"x0","type":"quantitative","scale":{"zero":false,"nice":false},"axis":null},"y":{"datum":93,"type":"quantitative","title":null},"text":{"field":"tis"}}},
{"transform":[{"filter":"datum.t=='P'"}],"mark":{"type":"text","fontSize":26,"baseline":"middle","align":"right","dx":-5,"color":"#000","text":"1kb"},
 "encoding":{"x":{"field":"k0","type":"quantitative","scale":{"zero":false,"nice":false},"axis":null},"y":{"datum":93,"type":"quantitative","title":null}}},
{"transform":[{"filter":"datum.t=='P'"}],"mark":{"type":"rect","fill":"#000","stroke":"#000","strokeWidth":1.5},
 "encoding":{"x":{"field":"k0","type":"quantitative","scale":{"zero":false,"nice":false},"axis":null},"x2":{"field":"k1"},"y":{"datum":80,"type":"quantitative","title":null},"y2":{"datum":106}}},
{"transform":[{"filter":"datum.t=='G' && datum.k=='E'"}],"mark":{"type":"rect","fill":"#a85e10","stroke":"#a85e10","strokeWidth":1},
 "encoding":{"x":{"field":"s","type":"quantitative","scale":{"zero":false,"nice":false},"axis":null},"x2":{"field":"e"},"y":{"datum":-13,"type":"quantitative","title":null},"y2":{"datum":-39}}},
{"transform":[{"filter":"datum.t=='G' && datum.k=='M'"}],"mark":{"type":"rect","fill":"#a85e10","stroke":"#a85e10","strokeWidth":1},
 "encoding":{"x":{"field":"s","type":"quantitative","scale":{"zero":false,"nice":false},"axis":null},"x2":{"field":"e"},"y":{"datum":-17,"type":"quantitative","title":null},"y2":{"datum":-35}}},
{"transform":[{"filter":"datum.t=='G' && datum.k=='U'"}],"mark":{"type":"rect","fill":"#a85e10","stroke":"#a85e10","strokeWidth":1},
 "encoding":{"x":{"field":"s","type":"quantitative","scale":{"zero":false,"nice":false},"axis":null},"x2":{"field":"e"},"y":{"datum":-20,"type":"quantitative","title":null},"y2":{"datum":-32}}},
{"transform":[{"filter":"datum.t=='N'"}],"mark":{"type":"text","fontSize":26.5,"fontStyle":"italic","baseline":"middle","align":"right","dx":-4,"color":"#b0640f"},
 "encoding":{"x":{"field":"gs","type":"quantitative","scale":{"zero":false,"nice":false},"axis":null},"y":{"datum":-26,"type":"quantitative","title":null},"text":{"field":"g"}}},
{"transform":[{"filter":"datum.t=='N' && datum.ar!=''"}],"mark":{"type":"text","fontSize":17,"font":"DejaVu Sans","fontWeight":"bold","baseline":"middle","align":"center","color":"#fff"},
 "encoding":{"x":{"field":"am","type":"quantitative","scale":{"zero":false,"nice":false},"axis":null},"y":{"datum":-26,"type":"quantitative","title":null},"text":{"field":"ar"}}}
]
}
},
{
"data":{"name":"rb"},
"transform":[{"lookup":"p","from":{"data":{"name":"panels"},"key":"p","fields":["r","c","x0","x1","tis","chr","k0","k1"]}}],
"title":{"text":"B","anchor":"start","fontSize":30,"fontWeight":"bold","color":"#000","offset":-31,"dx":6},
"facet":{
"row":{"field":"r","type":"ordinal","header":{"labels":false,"title":"\u2800mutation rate (% max)","titleFontSize":34,"titleFontWeight":"normal","titleColor":"#000","titlePadding":-6}},
"column":{"field":"c","type":"ordinal","header":{"labels":false,"title":"\u2800\u2800noncoding mutation events around tissue-specific genes","titleFontSize":35,"titleFontWeight":"normal","titleColor":"#0c5e57","titlePadding":0}}
},
"spacing":{"row":61,"column":33},
"bounds":"flush",
"resolve":{"scale":{"x":"independent"}},
"spec":{
"width":396,"height":93,
"layer":[
{"transform":[{"filter":"datum.t=='P'"}],"mark":{"type":"rect","fill":"#eef6f5","stroke":"#000","strokeWidth":2.5},
 "encoding":{"x":{"field":"x0","type":"quantitative","scale":{"zero":false,"nice":false},"axis":null},"x2":{"field":"x1"},
 "y":{"datum":0,"type":"quantitative","scale":{"domain":[0,121],"nice":false,"zero":false},"axis":{"values":[0,50,100],"title":null,"domain":false,"grid":false,"tickSize":8,"tickWidth":2,"tickColor":"#000","labelFontSize":25,"labelColor":"#000","labelFont":"Liberation Sans","labelPadding":0}},"y2":{"datum":121}}},
{"transform":[{"filter":"datum.t=='P' && datum.c>1"}],"mark":{"type":"rule","stroke":"#000","strokeWidth":2,"x2Offset":-8},
 "encoding":{"x":{"field":"x0","type":"quantitative","scale":{"zero":false,"nice":false},"axis":null},"x2":{"field":"x0"},"y":{"datum":50,"type":"quantitative","title":null}}},
{"transform":[{"filter":"datum.t=='P' && datum.c>1"}],"mark":{"type":"rule","stroke":"#000","strokeWidth":2,"x2Offset":-8},
 "encoding":{"x":{"field":"x0","type":"quantitative","scale":{"zero":false,"nice":false},"axis":null},"x2":{"field":"x0"},"y":{"datum":100,"type":"quantitative","title":null}}},
{"transform":[{"filter":"datum.t=='P' && datum.c>1"}],"mark":{"type":"rule","stroke":"#000","strokeWidth":2,"x2Offset":-8},
 "encoding":{"x":{"field":"x0","type":"quantitative","scale":{"zero":false,"nice":false},"axis":null},"x2":{"field":"x0"},"y":{"datum":0,"type":"quantitative","title":null}}},
{"transform":[{"filter":"datum.t=='B'"}],"mark":{"type":"rect","fill":"#12877e","stroke":"#12877e","strokeWidth":0.6},
 "encoding":{"x":{"field":"s","type":"quantitative","scale":{"zero":false,"nice":false},"axis":null},"x2":{"field":"e"},"y":{"field":"v","type":"quantitative","title":null},"y2":{"datum":0}}},
{"transform":[{"filter":"datum.t=='P'"}],"mark":{"type":"rule","stroke":"#000","strokeWidth":3},
 "encoding":{"x":{"field":"x0","type":"quantitative","scale":{"zero":false,"nice":false},"axis":null},"x2":{"field":"x1"},"y":{"datum":0,"type":"quantitative","title":null}}},
{"transform":[{"filter":"datum.t=='T'"}],"mark":{"type":"rule","stroke":"#000","strokeWidth":1.5},
 "encoding":{"x":{"field":"x","type":"quantitative","scale":{"zero":false,"nice":false},"axis":null},"y":{"datum":0,"type":"quantitative","title":null},"y2":{"datum":-8}}},
{"transform":[{"filter":"datum.t=='T'"}],"mark":{"type":"text","fontSize":17.5,"baseline":"middle","align":"center","color":"#000"},
 "encoding":{"x":{"field":"x","type":"quantitative","scale":{"zero":false,"nice":false},"axis":null},"y":{"datum":-22,"type":"quantitative","title":null},"text":{"field":"lab"}}},
{"transform":[{"filter":"datum.t=='P'"}],"mark":{"type":"text","fontSize":17.5,"baseline":"middle","align":"left","color":"#000"},
 "encoding":{"x":{"field":"x0","type":"quantitative","scale":{"zero":false,"nice":false},"axis":null},"y":{"datum":-22,"type":"quantitative","title":null},"text":{"field":"chr"}}},
{"transform":[{"filter":"datum.t=='P'"}],"mark":{"type":"text","fontSize":26.5,"baseline":"middle","align":"left","dx":10,"color":"#0c5e57"},
 "encoding":{"x":{"field":"x0","type":"quantitative","scale":{"zero":false,"nice":false},"axis":null},"y":{"datum":93,"type":"quantitative","title":null},"text":{"field":"tis"}}},
{"transform":[{"filter":"datum.t=='P'"}],"mark":{"type":"text","fontSize":26,"baseline":"middle","align":"right","dx":-5,"color":"#000","text":"1kb"},
 "encoding":{"x":{"field":"k0","type":"quantitative","scale":{"zero":false,"nice":false},"axis":null},"y":{"datum":93,"type":"quantitative","title":null}}},
{"transform":[{"filter":"datum.t=='P'"}],"mark":{"type":"rect","fill":"#000","stroke":"#000","strokeWidth":1.5},
 "encoding":{"x":{"field":"k0","type":"quantitative","scale":{"zero":false,"nice":false},"axis":null},"x2":{"field":"k1"},"y":{"datum":80,"type":"quantitative","title":null},"y2":{"datum":106}}},
{"transform":[{"filter":"datum.t=='G' && datum.k=='E'"}],"mark":{"type":"rect","fill":"#0b5c55","stroke":"#0b5c55","strokeWidth":1},
 "encoding":{"x":{"field":"s","type":"quantitative","scale":{"zero":false,"nice":false},"axis":null},"x2":{"field":"e"},"y":{"datum":-13,"type":"quantitative","title":null},"y2":{"datum":-39}}},
{"transform":[{"filter":"datum.t=='G' && datum.k=='U'"}],"mark":{"type":"rect","fill":"#0b5c55","stroke":"#0b5c55","strokeWidth":1},
 "encoding":{"x":{"field":"s","type":"quantitative","scale":{"zero":false,"nice":false},"axis":null},"x2":{"field":"e"},"y":{"datum":-20,"type":"quantitative","title":null},"y2":{"datum":-32}}},
{"transform":[{"filter":"datum.t=='N'"}],"mark":{"type":"text","fontSize":26.5,"fontStyle":"italic","baseline":"middle","align":"right","dx":-4,"color":"#0c5e57"},
 "encoding":{"x":{"field":"gs","type":"quantitative","scale":{"zero":false,"nice":false},"axis":null},"y":{"datum":-26,"type":"quantitative","title":null},"text":{"field":"g"}}},
{"transform":[{"filter":"datum.t=='N' && datum.ar!=''"}],"mark":{"type":"text","fontSize":17,"font":"DejaVu Sans","fontWeight":"bold","baseline":"middle","align":"center","color":"#fff"},
 "encoding":{"x":{"field":"am","type":"quantitative","scale":{"zero":false,"nice":false},"axis":null},"y":{"datum":-26,"type":"quantitative","title":null},"text":{"field":"ar"}}}
]
}
}
]
}
